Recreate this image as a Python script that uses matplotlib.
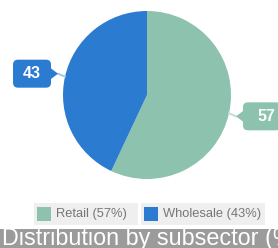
import numpy as np
import matplotlib
matplotlib.use('Agg')
import matplotlib.pyplot as plt
from matplotlib.patches import FancyBboxPatch, Polygon, Rectangle

# Chart data
categories = ['Retail', 'Wholesale']
shares = [57, 43]
colors = ['#8cc2ae', '#2b7bd0']
line_colors = ['#c4dfd5', '#a9c9ec']
title = 'Distribution by subsector (%)'

W, H = 278, 248
fig = plt.figure(figsize=(W / 100, H / 100), dpi=100)
ax = fig.add_axes([0, 0, 1, 1])

# Pie, laid out in pixel units
cx, cy, r = 147, 153, 84
wedges, _ = ax.pie(shares, colors=colors, startangle=90, counterclock=False,
                   center=(cx, cy), radius=r, frame=True,
                   wedgeprops=dict(linewidth=0))
ax.set_xlim(0, W)
ax.set_ylim(0, H)
ax.set_aspect('auto')
ax.axis('off')

plt.rcParams['font.family'] = ['Liberation Sans', 'DejaVu Sans']

# Callout labels
for w, val, col, lcol in zip(wedges, shares, colors, line_colors):
    mid = np.deg2rad((w.theta1 + w.theta2) / 2)
    ex, ey = cx + r * np.cos(mid), cy + r * np.sin(mid)
    side = 1 if np.cos(mid) > 0 else -1
    ly = ey - 3 * side
    tip_x = ex + 7 * side
    ax.plot([ex, tip_x], [ey, ly], color=lcol, lw=1.5,
            solid_capstyle='round', zorder=3)
    box_w, box_h = 38, 28
    bx = tip_x + 7 * side if side > 0 else tip_x - 7 - box_w
    ax.add_patch(FancyBboxPatch((bx, ly - box_h / 2), box_w, box_h,
                                boxstyle='round,pad=0,rounding_size=5',
                                fc=col, ec='none', zorder=4))
    base = bx if side > 0 else bx + box_w
    ax.add_patch(Polygon([[tip_x, ly], [base + side * 1, ly + 6],
                          [base + side * 1, ly - 6]],
                         closed=True, fc=col, ec='none', zorder=4))
    ax.text(bx + box_w / 2 + (4 if side > 0 else 0), ly, str(val),
            color='white', fontsize=11.5, fontweight='bold',
            ha='center', va='center', zorder=5)

# Legend boxes
legend_x = [34, 141]
legend_w = [104, 124]
for lx, lw_, cat, val, col in zip(legend_x, legend_w, categories, shares, colors):
    ax.add_patch(Rectangle((lx, 23), lw_, 22, fc='#efefef', ec='none'))
    ax.add_patch(Rectangle((lx + 3, 27), 14, 14, fc=col, ec='none'))
    ax.text(lx + 22, 34, f'{cat} ({val}%)', color='#777777', fontsize=9.3,
            ha='left', va='center')

# Title band
ax.add_patch(Rectangle((0, 0), W, 19, fc='#9b9b9b', ec='none'))
ax.text(2, 2.5, title, color='white', fontsize=16.8, ha='left',
        va='baseline')

fig.savefig('out.png', dpi=100)
